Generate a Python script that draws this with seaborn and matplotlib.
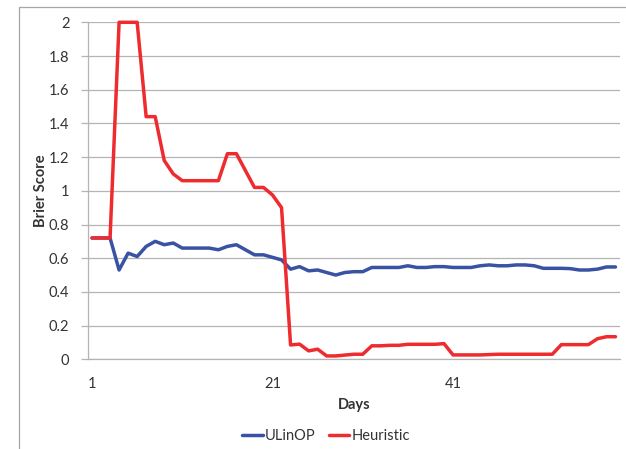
import numpy as np
import pandas as pd
import matplotlib
matplotlib.use("Agg")
import matplotlib.pyplot as plt
import seaborn as sns
from matplotlib.lines import Line2D
from matplotlib.ticker import FixedLocator, FuncFormatter

# ---- data ----
days = list(range(1, 60))
ulinop = [0.72, 0.72, 0.72, 0.53, 0.63, 0.61, 0.67, 0.70, 0.68, 0.69,
          0.66, 0.66, 0.66, 0.66, 0.65, 0.67, 0.68, 0.65, 0.62, 0.62,
          0.605, 0.59, 0.535, 0.55, 0.525, 0.53, 0.515, 0.50, 0.515, 0.52,
          0.52, 0.545, 0.545, 0.545, 0.545, 0.555, 0.545, 0.545, 0.55, 0.55,
          0.545, 0.545, 0.545, 0.555, 0.56, 0.555, 0.555, 0.56, 0.56, 0.555,
          0.54, 0.54, 0.54, 0.538, 0.53, 0.53, 0.535, 0.548, 0.548]
heuristic = [0.72, 0.72, 0.72, 2.0, 2.0, 2.0, 1.44, 1.44, 1.18, 1.10,
             1.06, 1.06, 1.06, 1.06, 1.06, 1.22, 1.22, 1.12, 1.02, 1.02,
             0.975, 0.90, 0.085, 0.09, 0.05, 0.06, 0.02, 0.02, 0.025, 0.03,
             0.03, 0.08, 0.08, 0.083, 0.083, 0.089, 0.089, 0.089, 0.089, 0.093,
             0.026, 0.026, 0.026, 0.026, 0.028, 0.03, 0.03, 0.03, 0.03, 0.03,
             0.03, 0.03, 0.087, 0.087, 0.087, 0.087, 0.122, 0.134, 0.134]
series_names = ["ULinOP", "Heuristic"]
series_colors = ["#3A52A3", "#EE2B2E"]
y_ticks = [0, 0.2, 0.4, 0.6, 0.8, 1.0, 1.2, 1.4, 1.6, 1.8, 2.0]
x_labels = [1, 21, 41]

df = pd.DataFrame({
    "Days": days * 2,
    "Brier Score": ulinop + heuristic,
    "series": [series_names[0]] * len(days) + [series_names[1]] * len(days),
})

sns.set_style("white")
plt.rcParams["font.family"] = ["Lato", "DejaVu Sans"]

fig = plt.figure(figsize=(6.26, 4.49), dpi=100)
ax = fig.add_axes([87.5 / 626, 1 - 359.3 / 449, (620 - 87.5) / 626, (359.3 - 22.3) / 449])

sns.lineplot(data=df, x="Days", y="Brier Score", hue="series",
             palette=dict(zip(series_names, series_colors)),
             linewidth=2.5, legend=False, ax=ax, clip_on=False, zorder=3)

ax.set_xlim(0.5, 59.5)
ax.set_ylim(0, 2)

grid_col = "#B4B4B4"
ax.yaxis.set_major_locator(FixedLocator(y_ticks))
ax.yaxis.set_major_formatter(FuncFormatter(lambda v, p: "%g" % round(v, 1)))
ax.grid(axis="y", color=grid_col, linewidth=0.9)
ax.set_axisbelow(True)

ax.set_xticks(x_labels)
ax.set_xticklabels([str(v) for v in x_labels])
ax.set_xticks([0.5 + 10 * k for k in range(6)], minor=True)
ax.tick_params(axis="x", which="major", length=0, pad=13, labelsize=10.5, labelcolor="#333333")
ax.tick_params(axis="x", which="minor", length=5, width=0.9, color=grid_col, direction="out")
ax.tick_params(axis="y", which="major", length=5, width=0.9, color=grid_col, direction="out",
               pad=8, labelsize=10.5, labelcolor="#333333", left=True)

for side in ["top", "right"]:
    ax.spines[side].set_visible(False)
for side in ["left", "bottom"]:
    ax.spines[side].set_color(grid_col)
    ax.spines[side].set_linewidth(0.9)

ax.set_xlabel("Days", fontsize=10.5, fontweight="bold", color="#333333", labelpad=5)
ax.set_ylabel("Brier Score", fontsize=10.5, fontweight="bold", color="#333333")
ax.yaxis.set_label_coords(-(87.5 - 48) / 532.5, 0.5)

handles = [Line2D([], [], color=c, linewidth=2.5) for c in series_colors]
fig.legend(handles, series_names, loc="center", bbox_to_anchor=(326 / 626, 1 - 436 / 449),
           ncol=2, frameon=False, fontsize=10.5, handlelength=1.4, handletextpad=0.15,
           columnspacing=0.9, labelcolor="#333333")

# chart area border (top and left edges visible in the reference)
fig.add_artist(Line2D([18.7 / 626, 1], [1 - 7.3 / 449] * 2, color="#A6A6A6", linewidth=0.9))
fig.add_artist(Line2D([18.7 / 626] * 2, [0, 1 - 7.3 / 449], color="#A6A6A6", linewidth=0.9))

fig.savefig("out.png", dpi=100)
